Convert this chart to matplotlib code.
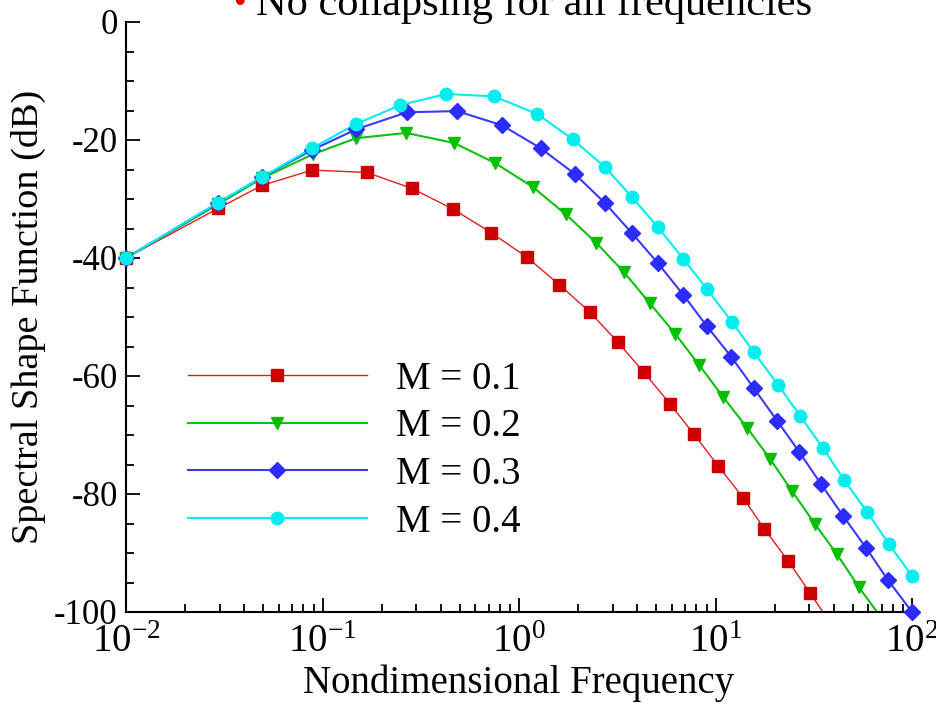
import math
import matplotlib
matplotlib.use("Agg")
import matplotlib.pyplot as plt
from matplotlib.ticker import FixedLocator, LogLocator, NullFormatter, FuncFormatter

plt.rcParams['font.family'] = ['Liberation Serif', 'DejaVu Serif']
plt.rcParams['mathtext.fontset'] = 'custom'
plt.rcParams['mathtext.rm'] = 'Liberation Serif'
plt.rcParams['mathtext.it'] = 'Liberation Serif:italic'
plt.rcParams['axes.unicode_minus'] = False

# values (last red/green point = where the curve meets the axis)
red_f = [0.01, 0.0294, 0.0492, 0.0885, 0.168, 0.285, 0.461, 0.721, 1.10, 1.60, 2.30,
         3.19, 4.33, 5.86, 7.78, 10.3, 13.8, 17.7, 23.4, 30.3, 35.2]
red_db = [-40, -31.6, -27.7, -25.1, -25.5, -28.2, -31.7, -35.7, -39.9, -44.5, -49.2,
          -54.3, -59.4, -64.7, -69.9, -75.2, -80.6, -85.9, -91.3, -96.8, -100]

green_f = [0.01, 0.0294, 0.0492, 0.0895, 0.148, 0.266, 0.467, 0.755, 1.18, 1.73, 2.47,
           3.42, 4.64, 6.22, 8.24, 10.9, 14.5, 18.9, 24.5, 32.1, 41.5, 53.7, 66.4]
green_db = [-40, -30.9, -26.5, -22.4, -19.7, -18.8, -20.5, -23.9, -28.0, -32.6, -37.4,
            -42.4, -47.7, -52.8, -58.1, -63.5, -68.8, -74.0, -79.5, -85.1, -90.2, -95.8, -100]

blue_f = [0.01, 0.0294, 0.0492, 0.0885, 0.148, 0.269, 0.483, 0.819, 1.29, 1.93, 2.74,
          3.76, 5.10, 6.84, 9.06, 12.0, 15.7, 20.6, 26.6, 34.4, 44.6, 58.3, 75.5, 100]
blue_db = [-40, -30.7, -26.3, -21.7, -18.2, -15.3, -15.1, -17.5, -21.4, -25.8, -30.7,
           -35.8, -40.9, -46.2, -51.6, -56.7, -62.1, -67.6, -72.8, -78.3, -83.7, -89.1, -94.6, -100]

cyan_f = [0.01, 0.0294, 0.0492, 0.0885, 0.148, 0.248, 0.425, 0.746, 1.24, 1.88, 2.74,
          3.76, 5.10, 6.84, 9.06, 12.1, 15.7, 20.8, 26.9, 35.2, 45.1, 59.0, 76.4, 100]
cyan_db = [-40, -30.6, -26.3, -21.4, -17.3, -14.1, -12.2, -12.6, -15.6, -19.9, -24.6,
           -29.7, -34.8, -40.1, -45.3, -50.8, -56.0, -61.5, -66.7, -72.2, -77.6, -83.0, -88.5, -93.9]

labels = ['M = 0.1', 'M = 0.2', 'M = 0.3', 'M = 0.4']

fig = plt.figure(figsize=(9.37, 7.04), dpi=100)
ax = fig.add_axes([126 / 937, 1 - 612 / 704, 786 / 937, 590 / 704])

series = [
    (red_f, red_db, '#dd2020', '#cc0000', 's', 8, 1.0, len(red_f) - 1),
    (green_f, green_db, '#10c010', '#00c000', 'v', 9, 1.5, len(green_f) - 1),
    (blue_f, blue_db, '#3a3aff', '#2c2cff', 'D', 8, 1.5, len(blue_f)),
    (cyan_f, cyan_db, '#00eeee', '#00eeee', 'o', 9, 1.5, len(cyan_f)),
]
handles = []
for (f, db, lc, mc, mk, ms, lw, nmark), lab in zip(series, labels):
    ax.plot(f, db, color=lc, lw=lw, zorder=2)
    ax.plot(f[:nmark], db[:nmark], ls='none', marker=mk, ms=ms, color=mc,
            mec=mc, clip_on=False, zorder=3)
    h, = ax.plot([], [], color=lc, lw=lw, marker=mk, ms=ms, mfc=mc, mec=mc)
    handles.append(h)

ax.set_xscale('log')
ax.set_xlim(0.01, 100)
ax.set_ylim(-100, 0)

ax.yaxis.set_major_locator(FixedLocator([0, -20, -40, -60, -80, -100]))
ax.yaxis.set_minor_locator(FixedLocator(list(range(-95, 0, 5))))
ax.yaxis.set_major_formatter(FuncFormatter(lambda v, p: '%d' % v))
ax.xaxis.set_major_locator(LogLocator(base=10, numticks=10))
ax.xaxis.set_minor_locator(LogLocator(base=10, subs=range(2, 10), numticks=20))
ax.xaxis.set_minor_formatter(NullFormatter())
ax.xaxis.set_major_formatter(FuncFormatter(
    lambda v, p: r'$\mathregular{10^{%d}}$' % round(math.log10(v))))

for s in ['top', 'right']:
    ax.spines[s].set_visible(False)
for s in ['left', 'bottom']:
    ax.spines[s].set_linewidth(1.5)
ax.tick_params(which='major', direction='in', length=10, width=1.3, labelsize=25, pad=6)
ax.tick_params(which='minor', direction='in', length=6, width=1.3)
ax.tick_params(axis='x', which='major', labelsize=28, pad=9)

ax.set_xlabel('Nondimensional Frequency', fontsize=28, labelpad=2)
ax.set_ylabel('Spectral Shape Function (dB)', fontsize=27.5, labelpad=6)

leg = ax.legend(handles, labels, loc='upper left', bbox_to_anchor=(188 / 937, 1 - 361 / 704),
                bbox_transform=fig.transFigure, frameon=False, fontsize=28,
                handlelength=4.6, handletextpad=0.75, labelspacing=0.27,
                borderpad=0, borderaxespad=0, numpoints=1)

fig.text(234 / 937, 1 - 13 / 704, '\u2022', color='#ee0000', fontsize=26, va='baseline')
fig.text(256 / 937, 1 - 15 / 704, 'No collapsing for all frequencies', fontsize=30.5,
         va='baseline')

fig.savefig('out.png', dpi=100)
